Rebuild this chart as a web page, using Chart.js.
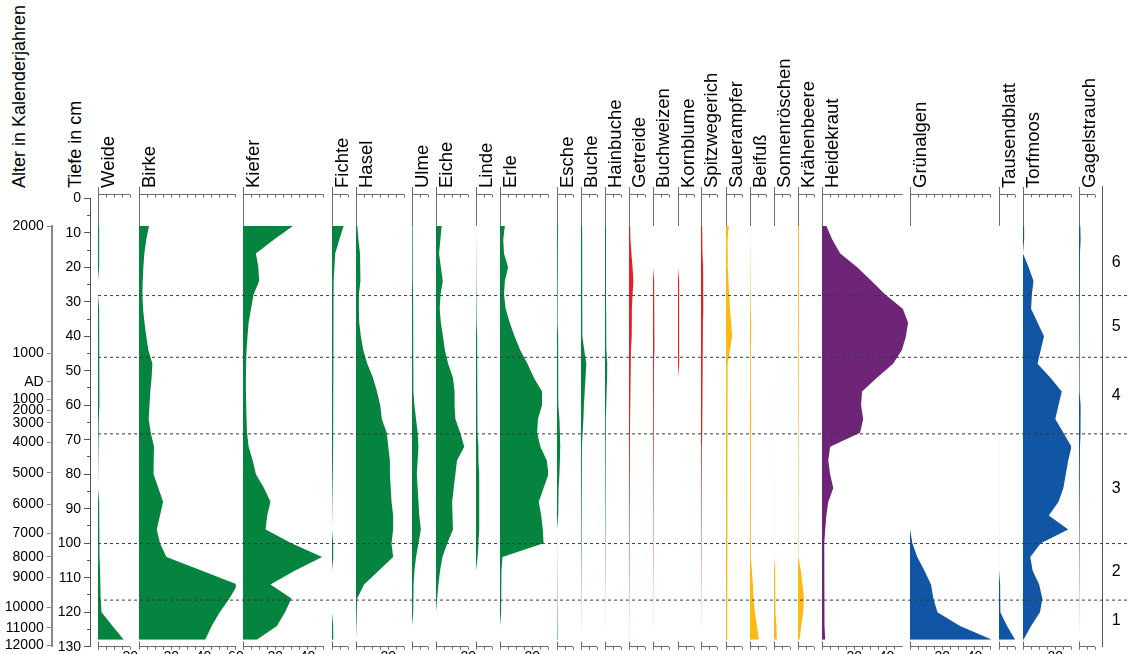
<!DOCTYPE html>
<html lang="de">
<head>
<meta charset="utf-8">
<title>Pollendiagramm</title>
<script src="https://cdn.jsdelivr.net/npm/chart.js@4.4.1/dist/chart.umd.min.js"></script>
<style>
  html, body { margin:0; padding:0; background:#fff; overflow:hidden; }
  #wrap { position:relative; width:1129px; height:654px; overflow:hidden; background:#fff; }
  #wrap canvas { position:absolute; top:0; }
  .vt { position:absolute; transform-origin:0 0; transform:rotate(-90deg); white-space:nowrap;
        font-family:'Liberation Sans', Arial, sans-serif; font-size:18.5px; line-height:18px; color:#000; }
  .vt.title { font-size:18px; }
</style>
</head>
<body>
<div id="wrap"></div>
<script>
// ---------------- data ----------------
const depths = [8,12,16,20,24,28,32,36,40,44,48,52,56,60,64,68,72,76,80,84,88,92,96,100,104,108,112,116,120,124,128];

const taxa = ['Weide','Birke','Kiefer','Fichte','Hasel','Ulme','Eiche','Linde','Erle','Esche','Buche','Hainbuche',
  'Getreide','Buchweizen','Kornblume','Spitzwegerich','Sauerampfer','Beifuß','Sonnenröschen','Krähenbeere',
  'Heidekraut','Grünalgen','Tausendblatt','Torfmoos','Gagelstrauch'];

const axisMax = [20,60,50,10,30,10,20,10,30,10,10,10,10,10,10,10,10,10,10,10,50,50,10,30,10];

const weide        = [0.7,0.7,0.7,0.7,0,0,0.7,0.9,1.1,0.9,0.9,0.8,0.8,0.7,0.5,0,0,0,0,0,0.7,0.8,0.9,1,1.1,1.3,1.5,1.8,2.2,9,16];
const birke        = [6.2,4.5,3.3,2.7,2.3,2.1,2.5,3.4,4.5,5.8,8.3,7.8,7,6.5,6,7.3,9.3,9.1,9,12,14.9,13,11,13,17,39,61,56,50,45,41];
const kiefer       = [31,19,8,9.5,10,6.5,5,3.5,2.8,2.2,1.9,1.8,1.8,2,2.2,2.5,3.5,6,8,13,17,15,14,30,49,32,17,30,26,21,8.5];
const fichte       = [7.2,4.5,2,1.5,1,0.8,0.7,0.7,0.7,0.7,0.7,0.7,0.7,0.7,0.7,0.7,0.7,0.6,0,0,0,0,0,0.7,0.8,0,0,0,0,0.7,0.8];
const hasel        = [0.8,1.5,2.5,3,2.5,1.8,1.8,2,3,4.5,7,10.5,13,15,16,19,20,21,21,21.5,22,23,23,22,23,14,5,0.7,0.5,0,0];
const ulme         = [0.4,0.4,0.4,0.4,0.6,0.7,0.7,0.7,0.7,0.8,1,1,1.2,1.5,2.5,3.5,4,3.5,3,3.5,4,4.5,5.5,4,2.5,1.5,1,0.8,0.7,0,0];
const eiche        = [3.5,2.7,1.9,3,4.2,2.8,2.3,3,4.3,5.5,7.5,10.5,11.5,11.5,12,15,17.5,13,12,11,10,10.5,10.5,7,4,2.5,1.5,0.7,0,0,0];
const linde        = [0,0,0,0.5,0.6,0.6,0.6,0,0.7,0.7,0.7,0.8,1,1,1,1.2,1.5,1.5,2,2,2,2,2,1.5,1,0,0,0,0,0,0];
const erle         = [3,2,2.5,5,3,2.5,3.5,6,9,12.5,17,21,26,26,23.5,23,25,29,30,27,24,25.5,26.5,27,1.5,0.9,0.7,0.7,0.7,0,0];
const esche        = [0.6,0.6,0.6,0.6,0.6,0,0,0,0.7,0.7,0.7,0.8,0.9,1,1.5,1.8,2,1.8,1.5,1,0.8,0.7,0,0.6,0.6,0.6,0.6,0,0,0,0];
const buche        = [0.7,0.7,0.7,0.8,0.8,0.8,0.8,0.9,1.2,2,3.3,2.8,2.3,1.8,1.5,1,0.6,0,0,0,0,0,0,0,0,0,0,0,0,0,0];
const hainbuche    = [0.6,0.6,0.6,0.6,0.6,0.6,0.7,0.7,0.8,1,1.4,1.3,1,0.8,0.5,0,0,0,0,0,0,0,0,0,0,0,0,0,0,0,0];
const getreide     = [0.7,0.9,1.5,2.2,2.7,2.2,1.8,1.8,1.6,1.2,0.7,0.7,0.7,0.7,0.7,0.6,0.5,0,0,0,0,0,0,0,0,0,0,0,0,0,0];
const buchweizen   = [0,0,0,0,0.7,1,1.2,0.9,0.7,0.7,0.6,0,0,0,0,0,0,0,0,0,0,0,0,0,0,0,0,0,0,0,0];
const kornblume    = [0,0,0,0,0.7,0.7,0.7,0.7,0.7,0.7,0.7,0,0,0,0,0,0,0,0,0,0,0,0,0,0,0,0,0,0,0,0];
const spitzwegerich= [0.7,0.9,1,1.3,1.5,1.5,1.3,1.2,1,0.9,0.7,0.7,0.7,0.7,0.7,0.7,0.5,0,0,0,0,0,0,0,0,0,0,0,0,0,0];
const sauerampfer  = [1.7,1,1,1.2,1.5,2,2.5,3.2,3.8,2.5,1,0.8,0.8,1,1,0.8,0.7,0.7,0.7,0.7,1,1,0.8,0.8,0.7,0.7,0.7,0.7,0.7,0.7,0.7];
const beifuss      = [0,0,0.5,0.5,0.5,0.5,0.5,0.7,0.7,0.5,0.5,0.5,0.5,0.7,0.7,0.6,0.5,0.5,0.5,0.5,0.5,0.5,0.5,0.5,0.6,1.2,1.8,2.2,3,4.3,5.5];
const sonnenroeschen=[0,0,0,0,0,0,0,0,0,0,0,0,0,0,0,0,0,0,0,0,0,0,0,0.6,0.6,0.7,0.8,0.9,1,1.5,1.8];
const kraehenbeere = [0.6,0.6,0.6,0.6,0.5,0,0,0,0,0,0.6,0.6,0.6,0.6,0.5,0,0,0,0,0,0,0,0,0,0.6,1.8,2.8,3.7,3.2,2,1];
const heidekraut   = [2.7,6.4,11.3,21.8,30.7,39.3,50,53.3,52,49.5,44,34,24.8,24.2,25.5,23.6,5,3.9,5,7,3.9,2.7,2,1.4,1.5,1.5,1.5,1.5,1.5,1.8,2];
const gruenalgen   = [0,0,0,0,0,0,0,0,0,0,0,0,0,0,0,0,0,0,0,0,0,0,0.6,1.5,4.5,9,13,14.5,17,31,51];
const tausendblatt = [0,0,0,0,0,0,0,0,0,0,0,0,0,0,0,0,0,0,0,0,0,0,0,0,0.6,0.6,0.7,0.7,1,5,10];
const torfmoos     = [0.7,0.7,0,3.5,6.5,5.5,5,9,13,11,9,17,24,22,20,25,30,28,26.5,25,22,16,28,11,4.5,6,10,12,10.5,5,0.3];
const gagelstrauch = [0.8,1,0.6,0,0,0,0.6,0.6,0.6,0.6,0.5,0,0.6,1,1.2,0.7,0.6,0,0,0,0,0,0,0,0,0,0,0,0,0,0];

const series = [weide,birke,kiefer,fichte,hasel,ulme,eiche,linde,erle,esche,buche,hainbuche,
  getreide,buchweizen,kornblume,spitzwegerich,sauerampfer,beifuss,sonnenroeschen,kraehenbeere,
  heidekraut,gruenalgen,tausendblatt,torfmoos,gagelstrauch];

const group = ['tree','tree','tree','tree','tree','tree','tree','tree','tree','tree','tree','tree',
  'crop','crop','crop','crop','herb','herb','herb','herb','heath','water','water','water','water'];

const depthTicksMajor = 10, depthTicksMinor = 5;
const ageLabels = ['2000','1000','AD','1000','2000','3000','4000','5000','6000','7000','8000','9000','10000','11000','12000'];
const ageDepths = [8.06,44.9,53.2,58.3,61.4,65.1,70.8,79.6,88.7,97.2,103.9,109.9,118.6,124.5,129.7];

const zoneBounds = [28.2,46.1,68.3,100.1,116.5];
const zoneLabels = ['1','2','3','4','5','6'];
const zoneLabelDepths = [122.5,108.3,84.2,57.2,37.2,18.5];

// ---------------- layout / style ----------------
const FONT = "'Liberation Sans', Arial, sans-serif";
Chart.defaults.font.family = FONT;
Chart.defaults.color = '#000';

const H = 700;
const Y0 = 198.3, PXCM = 3.449, PXPCT = 1.615;
const TOPAX = Y0 - 1.1 * PXCM;
const BOTAX = Y0 + 130 * PXCM;
const AXC = '#6b6b6b';
const colX = [98,139,243,332,356,412,436,476,500,557,581,605,629,653,678,701,726,750,774,798,822,910,999,1023,1079];
const viewMax = {20: 54};
const colors = {tree:'#04843e', crop:'#ec1c24', herb:'#fdb913', heath:'#6e2577', water:'#1156a5'};

const wrap = document.getElementById('wrap');
function addCanvas(left, width) {
  const c = document.createElement('canvas');
  c.width = width; c.height = H;
  c.style.left = left + 'px'; c.style.width = width + 'px'; c.style.height = H + 'px';
  wrap.appendChild(c);
  return c;
}
function addText(txt, left, top, cls) {
  const d = document.createElement('div');
  d.className = 'vt' + (cls ? ' ' + cls : ''); d.textContent = txt;
  d.style.left = left + 'px'; d.style.top = top + 'px';
  wrap.appendChild(d);
}
const snap = v => Math.round(v - 0.5) + 0.5;
const baseOpts = () => ({responsive:false, animation:false, events:[], devicePixelRatio:1,
  plugins:{legend:{display:false}, tooltip:{enabled:false}}});

const colAxes = {
  id: 'colAxes',
  beforeDatasetsDraw(chart, args, opts) {
    const {ctx, chartArea: ca, scales: {x, y}} = chart;
    const x0 = snap(x.getPixelForValue(0));
    const x1 = x.getPixelForValue(opts.axisMax);
    const yb = snap(ca.bottom);
    ctx.save();
    ctx.strokeStyle = AXC; ctx.lineWidth = 1;
    ctx.beginPath();
    ctx.moveTo(x0, ca.top - 7.5); ctx.lineTo(x0, y.getPixelForValue(depths[0]));
    ctx.moveTo(x0 - 0.5, snap(ca.top)); ctx.lineTo(x1, snap(ca.top));
    ctx.moveTo(x0 - 0.5, yb); ctx.lineTo(x1, yb);
    ctx.moveTo(x0, yb - 5); ctx.lineTo(x0, yb);
    ctx.stroke();
    ctx.restore();
  }
};

// titles
addText('Alter in Kalenderjahren', 10, 188, 'title');
addText('Tiefe in cm', 66, 188, 'title');

// column charts
taxa.forEach((name, i) => {
  const amax = axisMax[i];
  const vmax = viewMax[i] ?? amax;
  const w = vmax * PXPCT;
  const cl = Math.floor(colX[i]) - 16;
  const padL = colX[i] - cl;
  const cw = Math.ceil(padL + w + 16);
  const padR = cw - padL - w;
  const cv = addCanvas(cl, cw);
  const col = colors[group[i]];
  const filt = s => { s.ticks = s.ticks.filter(t => t.value <= amax + 1e-6); };
  const o = baseOpts();
  o.indexAxis = 'y';
  o.layout = {padding:{left:padL, right:padR, top:TOPAX, bottom:H - BOTAX - 30}};
  o.plugins.colAxes = {axisMax: amax};
  o.scales = {
    x: {type:'linear', position:'bottom', min:0, max:vmax,
        afterBuildTicks: filt, afterFit: s => { s.height = 30; },
        grid:{drawOnChartArea:false, drawTicks:true, tickLength:3, color:AXC},
        border:{display:false},
        ticks:{stepSize:5, autoSkip:false, maxRotation:0, minRotation:0, padding:-1, font:{size:14}, color:'#000',
               callback: v => (v > 0 && v % 20 === 0) ? String(v) : ''}},
    xt: {type:'linear', position:'top', min:0, max:vmax,
        afterBuildTicks: filt, afterFit: s => { s.height = 0; },
        grid:{drawOnChartArea:false, drawTicks:true, tickLength:-3, color:AXC},
        border:{display:false},
        ticks:{stepSize:5, autoSkip:false, display:false}},
    y: {type:'linear', min:-1.1, max:130, reverse:true, display:false}
  };
  new Chart(cv, {
    type:'line',
    data:{datasets:[{data: depths.map((d, k) => ({x: series[i][k], y: d})), fill:'origin',
      backgroundColor: col, borderColor:'rgba(0,0,0,0)', borderWidth:0, pointRadius:0, tension:0, clip:false}]},
    options:o,
    plugins:[colAxes]
  });
  addText(name, colX[i] + 0.5, 188);
});

// depth axis (major + minor)
function depthAxis(step, tl, showLabels) {
  const cv = addCanvas(0, 100);
  const o = baseOpts();
  o.layout = {padding:{left:0, right:10, top:Y0, bottom:H - BOTAX}};
  o.scales = {
    x:{type:'linear', display:false},
    y:{type:'linear', position:'left', min:0, max:130, reverse:true,
       afterFit: s => { s.width = 90; },
       grid:{drawOnChartArea:false, tickLength:tl, color:'#555'},
       border:{color:'#555'},
       ticks:{stepSize:step, autoSkip:false, padding:3, font:{size:14}, color:'#000', display:showLabels}}
  };
  new Chart(cv, {type:'line', data:{datasets:[]}, options:o});
}
depthAxis(depthTicksMinor, 3, false);
depthAxis(depthTicksMajor, 6, true);

// age axis
(function(){
  const cv = addCanvas(0, 62);
  const o = baseOpts();
  o.layout = {padding:{left:0, right:10, top:Y0 + ageDepths[0] * PXCM, bottom:H - BOTAX}};
  o.scales = {
    x:{type:'linear', display:false},
    y:{type:'linear', position:'left', min:ageDepths[0], max:130, reverse:true,
       afterBuildTicks: s => { s.ticks = ageDepths.map(v => ({value:v})); },
       afterFit: s => { s.width = 51.7; },
       grid:{drawOnChartArea:false, tickLength:5, color:'#8a8a8a'},
       border:{color:'#8a8a8a', width:2},
       ticks:{autoSkip:false, padding:3, font:{size:14}, color:'#000', callback:(v, idx) => ageLabels[idx]}}
  };
  new Chart(cv, {type:'line', data:{datasets:[]}, options:o});
})();

// zone column
(function(){
  const cv = addCanvas(1060, 69);
  const o = baseOpts();
  const zmin = -3.3;
  o.layout = {padding:{left:0, right:0, top:TOPAX - (-1.1 - zmin) * PXCM, bottom:H - BOTAX}};
  o.scales = {
    x:{type:'linear', display:false},
    y:{type:'linear', position:'right', min:zmin, max:130, reverse:true,
       afterBuildTicks: s => { s.ticks = zoneLabelDepths.map(v => ({value:v})); },
       afterFit: s => { s.width = 1129 - 1102.7; },
       grid:{drawOnChartArea:false, drawTicks:false},
       border:{color:'#555'},
       ticks:{autoSkip:false, padding:9, font:{size:16}, color:'#000', callback:(v, idx) => zoneLabels[idx]}}
  };
  new Chart(cv, {type:'line', data:{datasets:[]}, options:o});
})();

// zone boundaries overlay
(function(){
  const cv = addCanvas(98, 1031);
  const o = baseOpts();
  o.layout = {padding:{left:0, right:2, top:TOPAX, bottom:H - BOTAX}};
  o.scales = {
    x:{type:'linear', min:0, max:1, display:false},
    y:{type:'linear', min:-1.1, max:130, reverse:true, display:false}
  };
  new Chart(cv, {type:'line', data:{datasets: zoneBounds.map(b => ({
      data:[{x:0, y:b}, {x:1, y:b}], borderColor:'#3a3a3a', borderWidth:1, borderDash:[3,3],
      pointRadius:0, fill:false}))}, options:o});
})();
</script>
</body>
</html>
